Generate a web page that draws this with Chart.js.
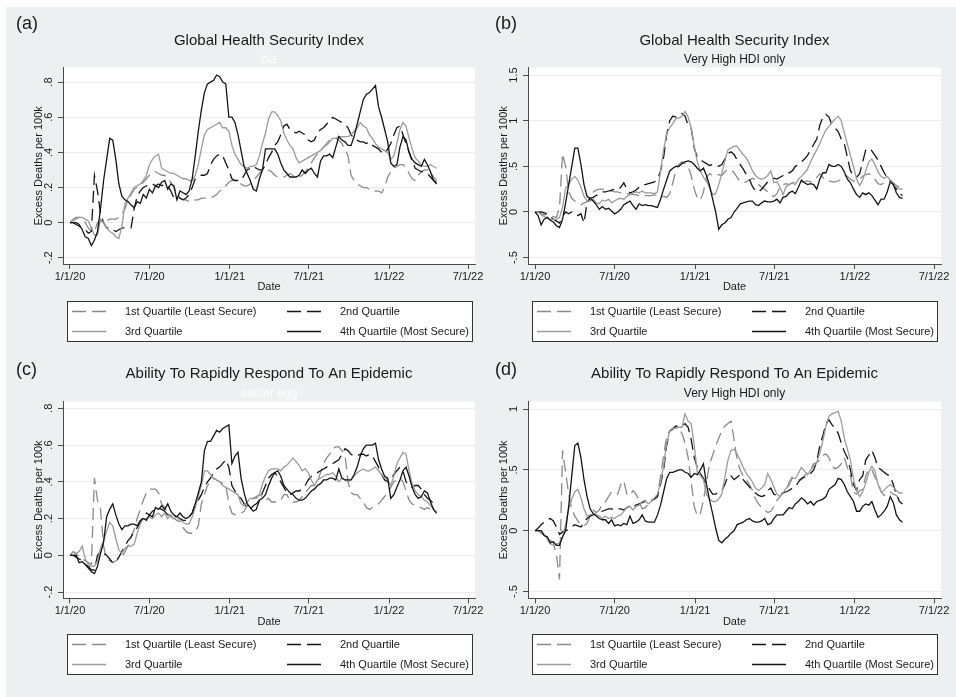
<!DOCTYPE html>
<html>
<head>
<meta charset="utf-8">
<script src="https://cdn.jsdelivr.net/npm/chart.js@4.4.1/dist/chart.umd.min.js"></script>
<style>
  html, body { margin:0; padding:0; background:#ffffff; width:956px; height:697px; overflow:hidden; }
  #bg { position:absolute; left:6px; top:7px; width:950px; height:690px; background:#eeeff1; }
  canvas { position:absolute; }
</style>
</head>
<body>
<div id="bg"></div>
<canvas id="pa" width="495" height="350" style="left:0px;top:0px;width:495px;height:350px"></canvas>
<canvas id="pb" width="478" height="350" style="left:478px;top:0px;width:478px;height:350px"></canvas>
<canvas id="pc" width="495" height="350" style="left:0px;top:340px;width:495px;height:350px"></canvas>
<canvas id="pd" width="478" height="350" style="left:478px;top:340px;width:478px;height:350px"></canvas>
<script>
Chart.defaults.font.family = '"Liberation Sans", Arial, Helvetica, sans-serif';
Chart.defaults.color = '#1a1a1a';

// ---- categories (days since 1/1/20, weekly) ----
const weekDays = [
0,7,14,21,28,35,42,49,56,63,
70,77,84,91,98,105,112,119,126,133,
140,147,154,161,168,175,182,189,196,203,
210,217,224,231,238,245,252,259,266,273,
280,287,294,301,308,315,322,329,336,343,
350,357,364,371,378,385,392,399,406,413,
420,427,434,441,448,455,462,469,476,483,
490,497,504,511,518,525,532,539,546,553,
560,567,574,581,588,595,602,609,616,623,
630,637,644,651,658,665,672,679,686,693,
700,707,714,721,728,735,742,749,756,763,
770,777,784,791,798,805,812,819,826,833,
840];

// ---- tick labels ----
const xTickDays = [0, 182, 366, 547, 731, 912];
const xTickLabels = ['1/1/20', '7/1/20', '1/1/21', '7/1/21', '1/1/22', '7/1/22'];
const yTicksA = [-0.2, 0, 0.2, 0.4, 0.6, 0.8];
const yLabelsA = ['-.2', '0', '.2', '.4', '.6', '.8'];
const yTicksB = [-0.5, 0, 0.5, 1, 1.5];
const yLabelsB = ['-.5', '0', '.5', '1', '1.5'];
const yTicksC = [-0.2, 0, 0.2, 0.4, 0.6, 0.8];
const yLabelsC = ['-.2', '0', '.2', '.4', '.6', '.8'];
const yTicksD = [-0.5, 0, 0.5, 1];
const yLabelsD = ['-.5', '0', '.5', '1'];

const seriesNames = ['1st Quartile (Least Secure)', '2nd Quartile', '3rd Quartile', '4th Quartile (Most Secure)'];
const titleGHS = 'Global Health Security Index';
const titleARR = 'Ability To Rapidly Respond To An Epidemic';
const subtitleHDI = 'Very High HDI only';

// ---- panel (a) ----
const aQ1 = [
0,0.02,0.03,0.03,0.02,0.0,-0.03,-0.05,-0.05,0.0,
0.01,0.0,0.01,0.02,0.02,0.02,0.03,0.05,0.08,0.13,
0.16,0.19,0.20,0.21,0.23,0.25,0.27,0.28,0.29,0.28,
0.27,0.27,0.25,0.23,0.20,0.17,0.14,0.13,0.13,0.12,
0.12,0.13,0.13,0.14,0.14,0.14,0.14,0.15,0.16,0.18,
0.19,0.21,0.23,0.24,0.24,0.23,0.22,0.21,0.21,0.22,
0.24,0.26,0.28,0.30,0.31,0.30,0.29,0.27,0.26,0.26,
0.26,0.27,0.28,0.27,0.26,0.26,0.27,0.29,0.31,0.34,
0.37,0.39,0.41,0.43,0.45,0.47,0.48,0.48,0.47,0.45,
0.42,0.38,0.27,0.24,0.22,0.21,0.20,0.20,0.19,0.19,
0.18,0.18,0.17,0.20,0.26,0.29,0.31,0.32,0.33,0.33,
0.31,0.28,0.25,0.24,0.27,0.29,0.30,0.30,0.29,0.26,
0.24];
const aQ2 = [
0,0,-0.01,-0.02,-0.03,-0.04,-0.06,-0.05,0.27,0.18,
0.05,0.0,-0.03,-0.03,-0.04,-0.05,-0.04,-0.03,-0.03,-0.03,
-0.03,0.08,0.15,0.18,0.20,0.21,0.21,0.22,0.21,0.22,
0.21,0.22,0.21,0.18,0.14,0.14,0.14,0.13,0.14,0.16,
0.20,0.25,0.26,0.27,0.27,0.28,0.33,0.36,0.38,0.39,
0.38,0.34,0.30,0.25,0.24,0.24,0.24,0.27,0.30,0.31,
0.32,0.31,0.30,0.30,0.33,0.37,0.40,0.44,0.46,0.50,
0.55,0.56,0.53,0.52,0.51,0.52,0.51,0.50,0.47,0.46,
0.47,0.51,0.53,0.54,0.56,0.58,0.60,0.59,0.58,0.57,
0.56,0.54,0.50,0.48,0.47,0.46,0.46,0.45,0.46,0.44,
0.43,0.42,0.40,0.39,0.42,0.45,0.50,0.54,0.55,0.50,
0.45,0.40,0.35,0.31,0.30,0.29,0.29,0.28,0.26,0.24,
0.23];
const aQ3 = [
0,0.01,0.02,0.03,0.03,0.02,0.01,-0.03,-0.07,-0.07,
0.02,0.0,-0.03,-0.05,-0.06,-0.08,-0.09,-0.02,0.11,0.14,
0.17,0.20,0.21,0.22,0.24,0.27,0.33,0.36,0.38,0.39,
0.31,0.30,0.29,0.28,0.28,0.27,0.26,0.25,0.25,0.24,
0.24,0.27,0.33,0.42,0.50,0.53,0.54,0.55,0.56,0.57,
0.54,0.54,0.52,0.44,0.39,0.36,0.33,0.32,0.31,0.32,
0.32,0.33,0.38,0.45,0.51,0.59,0.63,0.63,0.61,0.58,
0.51,0.47,0.44,0.42,0.37,0.34,0.35,0.36,0.37,0.38,
0.39,0.40,0.41,0.43,0.44,0.46,0.48,0.48,0.49,0.49,
0.49,0.49,0.50,0.52,0.54,0.57,0.55,0.54,0.50,0.48,
0.45,0.43,0.42,0.41,0.40,0.36,0.38,0.45,0.53,0.57,
0.55,0.48,0.42,0.37,0.35,0.33,0.32,0.32,0.33,0.32,
0.31];
const aQ4 = [
0,0,0,-0.01,-0.04,-0.08,-0.09,-0.13,-0.10,-0.05,
0.08,0.24,0.36,0.48,0.47,0.36,0.22,0.15,0.13,0.12,
0.10,0.085,0.12,0.11,0.16,0.14,0.19,0.17,0.21,0.20,
0.23,0.24,0.19,0.22,0.21,0.13,0.18,0.17,0.16,0.18,
0.25,0.38,0.52,0.64,0.74,0.79,0.80,0.81,0.84,0.83,
0.80,0.79,0.60,0.60,0.57,0.50,0.41,0.32,0.28,0.24,
0.19,0.18,0.25,0.30,0.42,0.42,0.42,0.42,0.39,0.34,
0.30,0.28,0.26,0.26,0.26,0.27,0.30,0.28,0.30,0.31,
0.28,0.26,0.35,0.38,0.38,0.39,0.37,0.43,0.49,0.47,
0.46,0.44,0.44,0.49,0.56,0.63,0.70,0.73,0.74,0.76,
0.78,0.66,0.60,0.53,0.46,0.34,0.32,0.33,0.43,0.49,
0.47,0.40,0.36,0.34,0.33,0.32,0.36,0.33,0.29,0.24,
0.22];

// ---- panel (b) ----
const bQ1 = [
0,0.0,-0.02,-0.03,-0.03,-0.04,-0.05,-0.06,0.05,0.64,
0.50,0.22,0.15,0.12,0.10,0.08,0.10,0.11,0.16,0.22,
0.24,0.25,0.25,0.24,0.23,0.23,0.22,0.22,0.21,0.21,
0.20,0.20,0.19,0.19,0.18,0.19,0.18,0.18,0.18,0.19,
0.18,0.17,0.17,0.16,0.20,0.32,0.45,0.52,0.55,0.53,
0.50,0.40,0.25,0.15,0.13,0.22,0.38,0.42,0.40,0.39,
0.41,0.40,0.44,0.47,0.46,0.43,0.38,0.33,0.32,0.33,
0.35,0.37,0.35,0.30,0.27,0.25,0.22,0.18,0.17,0.20,
0.28,0.30,0.31,0.30,0.32,0.33,0.34,0.33,0.33,0.34,
0.33,0.34,0.38,0.42,0.38,0.34,0.34,0.33,0.33,0.34,
0.36,0.40,0.39,0.36,0.34,0.35,0.36,0.39,0.41,0.42,
0.40,0.36,0.31,0.30,0.32,0.34,0.34,0.32,0.29,0.27,
0.25];
const bQ2 = [
0,0,0.0,-0.01,-0.02,-0.05,-0.08,-0.10,-0.12,-0.05,
0.0,-0.02,0.0,-0.03,-0.04,-0.02,-0.12,0.10,0.15,0.16,
0.18,0.20,0.22,0.22,0.23,0.24,0.25,0.24,0.27,0.32,
0.25,0.21,0.22,0.24,0.27,0.30,0.30,0.31,0.32,0.33,
0.36,0.45,0.60,0.85,1.00,1.05,1.04,1.07,1.08,1.05,
0.95,0.92,0.70,0.60,0.57,0.55,0.53,0.51,0.52,0.52,
0.50,0.52,0.58,0.64,0.66,0.63,0.57,0.52,0.47,0.41,
0.36,0.28,0.23,0.22,0.25,0.29,0.33,0.35,0.37,0.36,
0.38,0.40,0.43,0.43,0.45,0.50,0.52,0.55,0.58,0.62,
0.68,0.74,0.80,0.95,1.04,1.07,1.04,0.95,0.92,0.88,
0.80,0.75,0.60,0.45,0.40,0.38,0.42,0.55,0.68,0.70,
0.67,0.62,0.57,0.50,0.43,0.38,0.35,0.30,0.25,0.20,
0.18];
const bQ3 = [
0,0.0,-0.03,-0.05,-0.06,-0.08,-0.08,-0.08,-0.06,0.05,
0.26,0.30,0.36,0.39,0.35,0.27,0.17,0.12,0.12,0.14,
0.10,0.09,0.13,0.12,0.14,0.10,0.12,0.14,0.15,0.14,
0.17,0.19,0.21,0.22,0.21,0.23,0.21,0.21,0.21,0.20,
0.22,0.45,0.68,0.86,0.92,0.97,1.02,1.03,1.05,1.10,
1.04,0.92,0.72,0.55,0.45,0.38,0.34,0.26,0.19,0.20,
0.30,0.42,0.56,0.68,0.70,0.72,0.72,0.67,0.63,0.59,
0.53,0.45,0.40,0.37,0.36,0.37,0.40,0.45,0.32,0.33,
0.27,0.19,0.28,0.30,0.32,0.30,0.36,0.39,0.43,0.47,
0.55,0.62,0.68,0.75,0.83,0.90,0.94,0.98,1.02,1.05,
1.00,0.87,0.74,0.62,0.50,0.36,0.29,0.35,0.45,0.55,
0.58,0.52,0.44,0.39,0.37,0.39,0.35,0.30,0.27,0.25,
0.25];
const bQ4 = [
0,-0.04,-0.14,-0.08,-0.06,-0.09,-0.11,-0.15,-0.17,-0.08,
0.10,0.30,0.50,0.70,0.70,0.52,0.30,0.17,0.15,0.12,
0.08,0.03,0.06,0.03,0.04,0.01,-0.02,0.0,0.03,0.08,
0.10,0.12,0.07,0.03,0.09,0.07,0.08,0.07,0.07,0.06,
0.05,0.14,0.25,0.35,0.45,0.48,0.50,0.50,0.53,0.55,
0.56,0.55,0.52,0.48,0.45,0.48,0.40,0.29,0.14,0.0,
-0.19,-0.14,-0.12,-0.08,-0.06,0.0,0.04,0.09,0.10,0.11,
0.12,0.12,0.08,0.07,0.10,0.12,0.11,0.11,0.12,0.14,
0.10,0.16,0.17,0.21,0.23,0.20,0.27,0.35,0.32,0.30,
0.31,0.30,0.25,0.36,0.43,0.43,0.52,0.50,0.50,0.52,
0.50,0.44,0.36,0.32,0.25,0.19,0.16,0.21,0.19,0.21,
0.18,0.13,0.08,0.14,0.14,0.22,0.33,0.30,0.21,0.16,
0.15];

// ---- panel (c) ----
const cQ1 = [
0,0.02,0.01,-0.01,-0.02,-0.03,-0.04,-0.05,0.42,0.30,
0.25,0.05,-0.02,-0.03,-0.04,-0.03,-0.02,-0.01,0.02,0.05,
0.10,0.14,0.20,0.25,0.30,0.34,0.36,0.36,0.36,0.34,
0.28,0.26,0.23,0.21,0.20,0.19,0.18,0.15,0.13,0.12,
0.12,0.13,0.16,0.28,0.33,0.38,0.40,0.42,0.41,0.40,
0.39,0.38,0.28,0.23,0.22,0.22,0.23,0.24,0.27,0.30,
0.31,0.32,0.33,0.32,0.30,0.31,0.29,0.29,0.29,0.30,
0.33,0.33,0.30,0.29,0.29,0.30,0.32,0.34,0.36,0.38,
0.38,0.40,0.45,0.50,0.53,0.55,0.58,0.59,0.59,0.57,
0.55,0.40,0.34,0.33,0.33,0.31,0.29,0.26,0.25,0.26,
0.27,0.28,0.30,0.32,0.34,0.37,0.40,0.41,0.42,0.40,
0.35,0.30,0.28,0.27,0.26,0.26,0.25,0.26,0.25,0.24,
0.24];
const cQ2 = [
0,0.0,-0.01,-0.02,-0.03,-0.05,-0.06,-0.08,-0.08,0.0,
0.02,0.01,0.0,-0.02,-0.04,-0.03,-0.01,0.02,0.05,0.08,
0.10,0.13,0.15,0.18,0.21,0.23,0.22,0.24,0.25,0.26,
0.25,0.24,0.22,0.22,0.21,0.21,0.20,0.19,0.19,0.21,
0.23,0.28,0.30,0.33,0.37,0.40,0.42,0.45,0.47,0.48,
0.50,0.52,0.48,0.38,0.35,0.32,0.31,0.28,0.26,0.25,
0.27,0.28,0.30,0.34,0.38,0.42,0.44,0.45,0.43,0.40,
0.37,0.34,0.33,0.34,0.35,0.35,0.36,0.38,0.41,0.43,
0.44,0.45,0.46,0.47,0.48,0.49,0.50,0.51,0.52,0.55,
0.58,0.57,0.55,0.54,0.54,0.55,0.55,0.54,0.55,0.54,
0.51,0.48,0.44,0.41,0.40,0.41,0.44,0.46,0.48,0.46,
0.40,0.38,0.37,0.38,0.38,0.36,0.33,0.31,0.30,0.28,
0.28];
const cQ3 = [
0,0.0,0.01,0.02,0.05,-0.02,-0.05,-0.06,-0.06,-0.03,
0.04,0.08,0.13,0.18,0.16,0.09,0.03,0.01,0.04,0.05,
0.05,0.06,0.12,0.17,0.20,0.20,0.21,0.20,0.22,0.23,
0.21,0.23,0.20,0.22,0.20,0.21,0.19,0.18,0.17,0.17,
0.21,0.26,0.32,0.38,0.46,0.46,0.44,0.42,0.41,0.40,
0.38,0.37,0.36,0.35,0.34,0.33,0.28,0.27,0.29,0.31,
0.31,0.31,0.33,0.39,0.43,0.46,0.47,0.47,0.47,0.46,
0.48,0.49,0.51,0.53,0.51,0.49,0.46,0.47,0.45,0.41,
0.38,0.41,0.42,0.43,0.44,0.44,0.45,0.43,0.40,0.42,
0.41,0.40,0.41,0.43,0.45,0.46,0.47,0.46,0.46,0.47,
0.48,0.46,0.44,0.42,0.41,0.38,0.43,0.50,0.53,0.56,
0.55,0.46,0.39,0.35,0.33,0.32,0.30,0.29,0.27,0.25,
0.23];
const cQ4 = [
0,0.0,0.0,-0.04,-0.035,-0.05,-0.07,-0.09,-0.10,-0.06,
0.01,0.07,0.21,0.25,0.28,0.22,0.17,0.14,0.16,0.16,
0.17,0.17,0.16,0.19,0.20,0.19,0.22,0.21,0.26,0.25,
0.27,0.25,0.28,0.24,0.22,0.21,0.23,0.21,0.20,0.21,
0.23,0.28,0.34,0.40,0.57,0.62,0.62,0.65,0.68,0.67,
0.69,0.70,0.71,0.50,0.54,0.56,0.42,0.34,0.28,0.26,
0.24,0.25,0.30,0.31,0.33,0.38,0.42,0.45,0.46,0.43,
0.38,0.36,0.34,0.33,0.31,0.30,0.30,0.31,0.33,0.35,
0.36,0.38,0.39,0.41,0.41,0.42,0.42,0.41,0.47,0.42,
0.41,0.41,0.41,0.44,0.48,0.54,0.58,0.60,0.60,0.60,
0.61,0.52,0.47,0.43,0.42,0.31,0.33,0.37,0.41,0.46,
0.48,0.43,0.37,0.33,0.31,0.32,0.35,0.34,0.29,0.25,
0.23];

// ---- panel (d) ----
const dQ1 = [
0,0.0,-0.02,-0.04,-0.06,-0.08,-0.10,-0.20,-0.40,0.66,
0.48,0.30,0.18,0.12,0.08,0.05,0.04,0.06,0.12,0.17,
0.15,0.17,0.22,0.24,0.28,0.32,0.31,0.30,0.38,0.41,
0.30,0.29,0.33,0.30,0.24,0.18,0.19,0.22,0.24,0.27,
0.28,0.45,0.62,0.78,0.82,0.83,0.86,0.83,0.80,0.72,
0.60,0.40,0.20,0.12,0.14,0.25,0.40,0.55,0.62,0.70,
0.76,0.82,0.86,0.88,0.90,0.75,0.58,0.50,0.45,0.42,
0.38,0.33,0.26,0.22,0.19,0.17,0.15,0.16,0.20,0.25,
0.28,0.31,0.33,0.40,0.44,0.43,0.42,0.42,0.45,0.48,
0.50,0.55,0.56,0.58,0.62,0.63,0.60,0.53,0.51,0.52,
0.55,0.60,0.52,0.45,0.32,0.30,0.33,0.34,0.45,0.51,
0.50,0.44,0.40,0.32,0.29,0.30,0.32,0.30,0.29,0.25,
0.23];
const dQ2 = [
0,0.02,0.05,0.07,0.09,0.10,0.08,0.03,-0.03,-0.01,
0.0,0.01,0.03,0.05,0.04,0.03,0.07,0.10,0.12,0.13,
0.14,0.15,0.16,0.17,0.18,0.18,0.17,0.18,0.18,0.17,
0.19,0.20,0.19,0.21,0.22,0.23,0.24,0.24,0.25,0.26,
0.28,0.38,0.50,0.70,0.82,0.84,0.86,0.86,0.86,0.88,
0.85,0.75,0.60,0.52,0.47,0.43,0.38,0.34,0.30,0.30,
0.32,0.33,0.38,0.45,0.45,0.42,0.44,0.46,0.42,0.39,
0.36,0.33,0.31,0.29,0.28,0.29,0.33,0.35,0.30,0.29,
0.30,0.31,0.32,0.33,0.35,0.36,0.40,0.43,0.44,0.46,
0.47,0.50,0.57,0.70,0.78,0.88,0.91,0.87,0.84,0.80,
0.72,0.65,0.60,0.50,0.38,0.33,0.42,0.45,0.58,0.62,
0.66,0.60,0.52,0.50,0.48,0.46,0.45,0.38,0.30,0.24,
0.22];
const dQ3 = [
0,0.0,0.0,-0.03,-0.07,-0.11,-0.12,-0.11,-0.10,-0.05,
0.05,0.18,0.26,0.32,0.34,0.27,0.18,0.12,0.13,0.14,
0.13,0.12,0.10,0.12,0.10,0.11,0.10,0.12,0.13,0.16,
0.19,0.20,0.17,0.20,0.21,0.24,0.25,0.22,0.24,0.27,
0.30,0.40,0.53,0.72,0.82,0.84,0.84,0.85,0.85,0.96,
0.90,0.88,0.70,0.48,0.45,0.42,0.30,0.26,0.24,0.24,
0.26,0.30,0.44,0.58,0.66,0.67,0.63,0.58,0.52,0.47,
0.44,0.40,0.35,0.33,0.35,0.38,0.47,0.42,0.36,0.30,
0.28,0.31,0.35,0.37,0.43,0.43,0.47,0.52,0.49,0.46,
0.50,0.53,0.56,0.64,0.74,0.86,0.94,0.96,0.97,0.98,
0.90,0.76,0.67,0.58,0.42,0.33,0.28,0.32,0.39,0.48,
0.53,0.49,0.38,0.32,0.33,0.36,0.38,0.36,0.33,0.31,
0.31];
const dQ4 = [
0,0.0,0.0,-0.04,-0.05,-0.10,-0.09,-0.12,-0.12,-0.05,
0.0,0.20,0.45,0.70,0.72,0.60,0.42,0.28,0.18,0.14,
0.12,0.10,0.09,0.09,0.06,0.09,0.04,0.05,0.04,0.06,
0.05,0.12,0.06,0.07,0.09,0.13,0.08,0.07,0.07,0.07,
0.13,0.21,0.32,0.43,0.48,0.48,0.49,0.50,0.50,0.48,
0.47,0.44,0.47,0.46,0.50,0.55,0.38,0.25,0.14,0.02,
-0.08,-0.10,-0.07,-0.05,-0.02,0.0,0.05,0.06,0.07,0.09,
0.10,0.08,0.07,0.07,0.08,0.10,0.05,0.06,0.10,0.13,
0.13,0.13,0.16,0.19,0.18,0.22,0.24,0.27,0.25,0.22,
0.24,0.21,0.24,0.25,0.26,0.28,0.34,0.36,0.38,0.43,
0.42,0.38,0.32,0.28,0.24,0.16,0.16,0.20,0.22,0.21,
0.24,0.17,0.11,0.13,0.16,0.20,0.28,0.23,0.13,0.09,
0.07];

// ---- styles ----
const TEXT = '#1a1a1a';
const AXIS = '#4a4a4a';
const STYLES = [
  { color: '#8a8a8a', dash: [12, 6] },
  { color: '#141414', dash: [12, 6] },
  { color: '#9b9b9b', dash: [] },
  { color: '#141414', dash: [] }
];
const FONT = '"Liberation Sans", Arial, Helvetica, sans-serif';

function decorPlugin(p) {
  return {
    id: 'decor',
    beforeDraw(chart) {
      const { ctx, chartArea: a } = chart;
      ctx.save();
      ctx.fillStyle = '#ffffff';
      ctx.fillRect(a.left, a.top, a.right - a.left, a.bottom - a.top);
      ctx.restore();
    },
    afterDraw(chart) {
      const { ctx, chartArea: a } = chart;
      const ys = chart.scales.y;
      ctx.save();
      ctx.fillStyle = TEXT;
      ctx.font = '18px ' + FONT;
      ctx.textAlign = 'left';
      ctx.textBaseline = 'middle';
      ctx.fillText(p.letter, p.letterX, p.letterY);
      // rotated y tick labels
      ctx.font = '11px ' + FONT;
      ctx.textAlign = 'center';
      ys.ticks.forEach((t, i) => {
        const y = ys.getPixelForValue(t.value);
        ctx.save();
        ctx.translate(a.left - 13.7, y);
        ctx.rotate(-Math.PI / 2);
        ctx.fillText(p.yLabels[i], 0, 0);
        ctx.restore();
      });
      // legend box
      const cx = (a.left + a.right) / 2;
      const L = Math.round(cx - 202.5), T = Math.round(a.bottom + p.legendOff), W = 405, H = 40;
      ctx.fillStyle = '#ffffff';
      ctx.fillRect(L, T, W, H);
      ctx.strokeStyle = '#333333';
      ctx.lineWidth = 1;
      ctx.strokeRect(L + 0.5, T + 0.5, W, H);
      const pos = [[L + 5, T + 10.5], [L + 220, T + 10.5], [L + 5, T + 30.5], [L + 220, T + 30.5]];
      chart.data.datasets.forEach((ds, i) => {
        const [kx, ky] = pos[i];
        ctx.save();
        ctx.strokeStyle = ds.borderColor;
        ctx.lineWidth = ds.borderWidth;
        ctx.setLineDash(ds.borderDash && ds.borderDash.length ? [14, 6] : []);
        ctx.beginPath();
        ctx.moveTo(kx, ky);
        ctx.lineTo(kx + 34, ky);
        ctx.stroke();
        ctx.restore();
        ctx.fillStyle = TEXT;
        ctx.textAlign = 'left';
        ctx.fillText(ds.label, kx + 53, ky);
      });
      ctx.restore();
    }
  };
}

function makePanel(id, p) {
  const datasets = p.series.map((vals, i) => ({
    label: seriesNames[i],
    data: vals.map((v, k) => ({ x: weekDays[k], y: v })),
    borderColor: STYLES[i].color,
    borderDash: STYLES[i].dash,
    borderWidth: 1.3,
    pointRadius: 0,
    fill: false,
    tension: 0,
    order: 4 - i
  }));
  return new Chart(document.getElementById(id), {
    type: 'line',
    data: { datasets },
    options: {
      responsive: false,
      animation: false,
      devicePixelRatio: 1,
      events: [],
      layout: { padding: { left: p.padL, right: p.padR, top: 0, bottom: p.padB } },
      plugins: {
        legend: { display: false },
        tooltip: { enabled: false },
        title: {
          display: true, text: p.title, fullSize: false, color: TEXT,
          font: { size: 15, weight: 'normal' },
          padding: { top: p.titleTop, bottom: 0 }
        },
        subtitle: {
          display: true, text: p.subtitle, fullSize: false, color: p.subColor,
          font: { size: 12, weight: 'normal' },
          padding: { top: 2.8, bottom: p.subBottom }
        }
      },
      scales: {
        x: {
          type: 'linear', min: -16, max: 928,
          afterBuildTicks: (s) => { s.ticks = xTickDays.map(v => ({ value: v })); },
          afterFit: (s) => { s.height = 30; },
          ticks: {
            autoSkip: false, maxRotation: 0, minRotation: 0, padding: 1,
            color: TEXT, font: { size: 11 },
            callback: (v, i) => xTickLabels[i]
          },
          grid: { display: true, drawOnChartArea: false, drawTicks: true, tickLength: 5, color: AXIS, lineWidth: 1 },
          border: { display: true, color: AXIS, width: 1 },
          title: { display: true, text: 'Date', color: TEXT, font: { size: 11 }, padding: { top: 0, bottom: 0 } }
        },
        y: {
          type: 'linear', min: p.yMin, max: p.yMax,
          afterBuildTicks: (s) => { s.ticks = p.yTicks.map(v => ({ value: v })); },
          afterFit: (s) => { s.width = p.yW; },
          ticks: { display: false },
          grid: { display: true, drawOnChartArea: true, drawTicks: true, tickLength: 5, color: '#ececec', tickColor: AXIS, lineWidth: 1 },
          border: { display: true, color: AXIS, width: 1 },
          title: { display: true, text: 'Excess Deaths per 100k', color: TEXT, font: { size: 11 }, padding: { top: p.yTitlePad, bottom: 0 } }
        }
      }
    },
    plugins: [decorPlugin(p)]
  });
}

makePanel('pa', {
  series: [aQ1, aQ2, aQ3, aQ4], title: titleGHS, subtitle: 'bla', subColor: '#ffffff',
  yTicks: yTicksA, yLabels: yLabelsA, yMin: -0.235, yMax: 0.8817,
  padL: 25, padR: 20, padB: 56, yW: 38, yTitlePad: 7.7, titleTop: 32, subBottom: 0.5,
  letter: '(a)', letterX: 16, letterY: 24, legendOff: 36.7
});
makePanel('pb', {
  series: [bQ1, bQ2, bQ3, bQ4], title: titleGHS, subtitle: subtitleHDI, subColor: TEXT,
  yTicks: yTicksB, yLabels: yLabelsB, yMin: -0.5696, yMax: 1.5805,
  padL: 12, padR: 15, padB: 56, yW: 38, yTitlePad: 7.1, titleTop: 32, subBottom: 0.5,
  letter: '(b)', letterX: 17, letterY: 24, legendOff: 36.7
});
makePanel('pc', {
  series: [cQ1, cQ2, cQ3, cQ4], title: titleARR, subtitle: 'easter egg', subColor: '#ffffff',
  yTicks: yTicksC, yLabels: yLabelsC, yMin: -0.234, yMax: 0.836,
  padL: 25, padR: 20, padB: 61.7, yW: 38, yTitlePad: 7.7, titleTop: 25.3, subBottom: 1.2,
  letter: '(c)', letterX: 16, letterY: 30, legendOff: 35.7
});
makePanel('pd', {
  series: [dQ1, dQ2, dQ3, dQ4], title: titleARR, subtitle: subtitleHDI, subColor: TEXT,
  yTicks: yTicksD, yLabels: yLabelsD, yMin: -0.5554, yMax: 1.06,
  padL: 12, padR: 15, padB: 61.7, yW: 38, yTitlePad: 7.1, titleTop: 25.3, subBottom: 1.2,
  letter: '(d)', letterX: 17, letterY: 30, legendOff: 35.7
});
</script>
</body>
</html>
